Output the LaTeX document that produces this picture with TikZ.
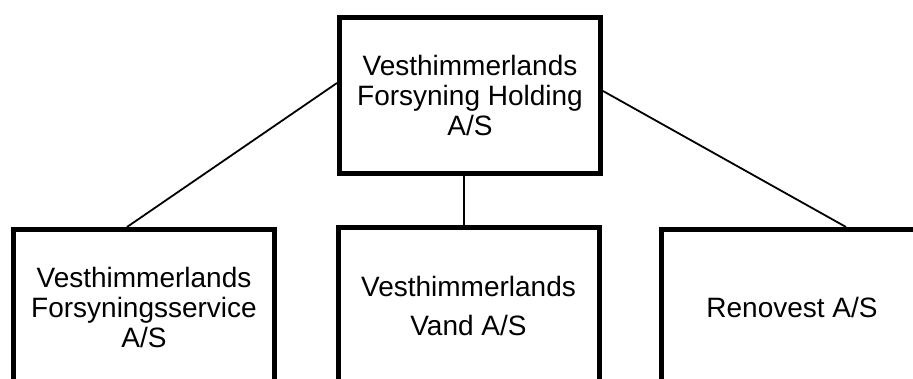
\documentclass[tikz,border=0pt]{standalone}
\usepackage{fontspec}
\setmainfont{Liberation Sans}
\begin{document}
\begin{tikzpicture}[x=1pt,y=1pt,
  orgbox/.style={draw=black, line width=5pt, fill=white, rectangle, inner sep=0pt,
    minimum width=261pt, minimum height=156pt, align=center,
    font=\fontsize{28}{30}\selectfont},
  link/.style={draw=black, line width=1.8pt}]
\useasboundingbox (0,0) rectangle (913,-379);
\clip (0,0) rectangle (913,-379);
\node[orgbox] (top) at (470,-95.5) {Vesthimmerlands\\Forsyning Holding\\A/S};
\node[orgbox] (lft) at (144,-307.5) {Vesthimmerlands\\Forsyningsservice\\A/S};
\node[orgbox, font=\fontsize{28}{39}\selectfont] (mid) at (468.5,-305.5) {Vesthimmerlands\\Vand A/S};
\node[orgbox] (rgt) at (792,-307.5) {Renovest A/S};
\draw[link] ([yshift=12.5pt]top.west) -- ([xshift=-17pt]lft.north);
\draw[link] ([yshift=4.5pt]top.east) -- ([xshift=54pt]rgt.north);
\draw[link] ([xshift=-6pt]top.south) -- ([xshift=-6pt]top.south |- mid.north);
\end{tikzpicture}
\end{document}
